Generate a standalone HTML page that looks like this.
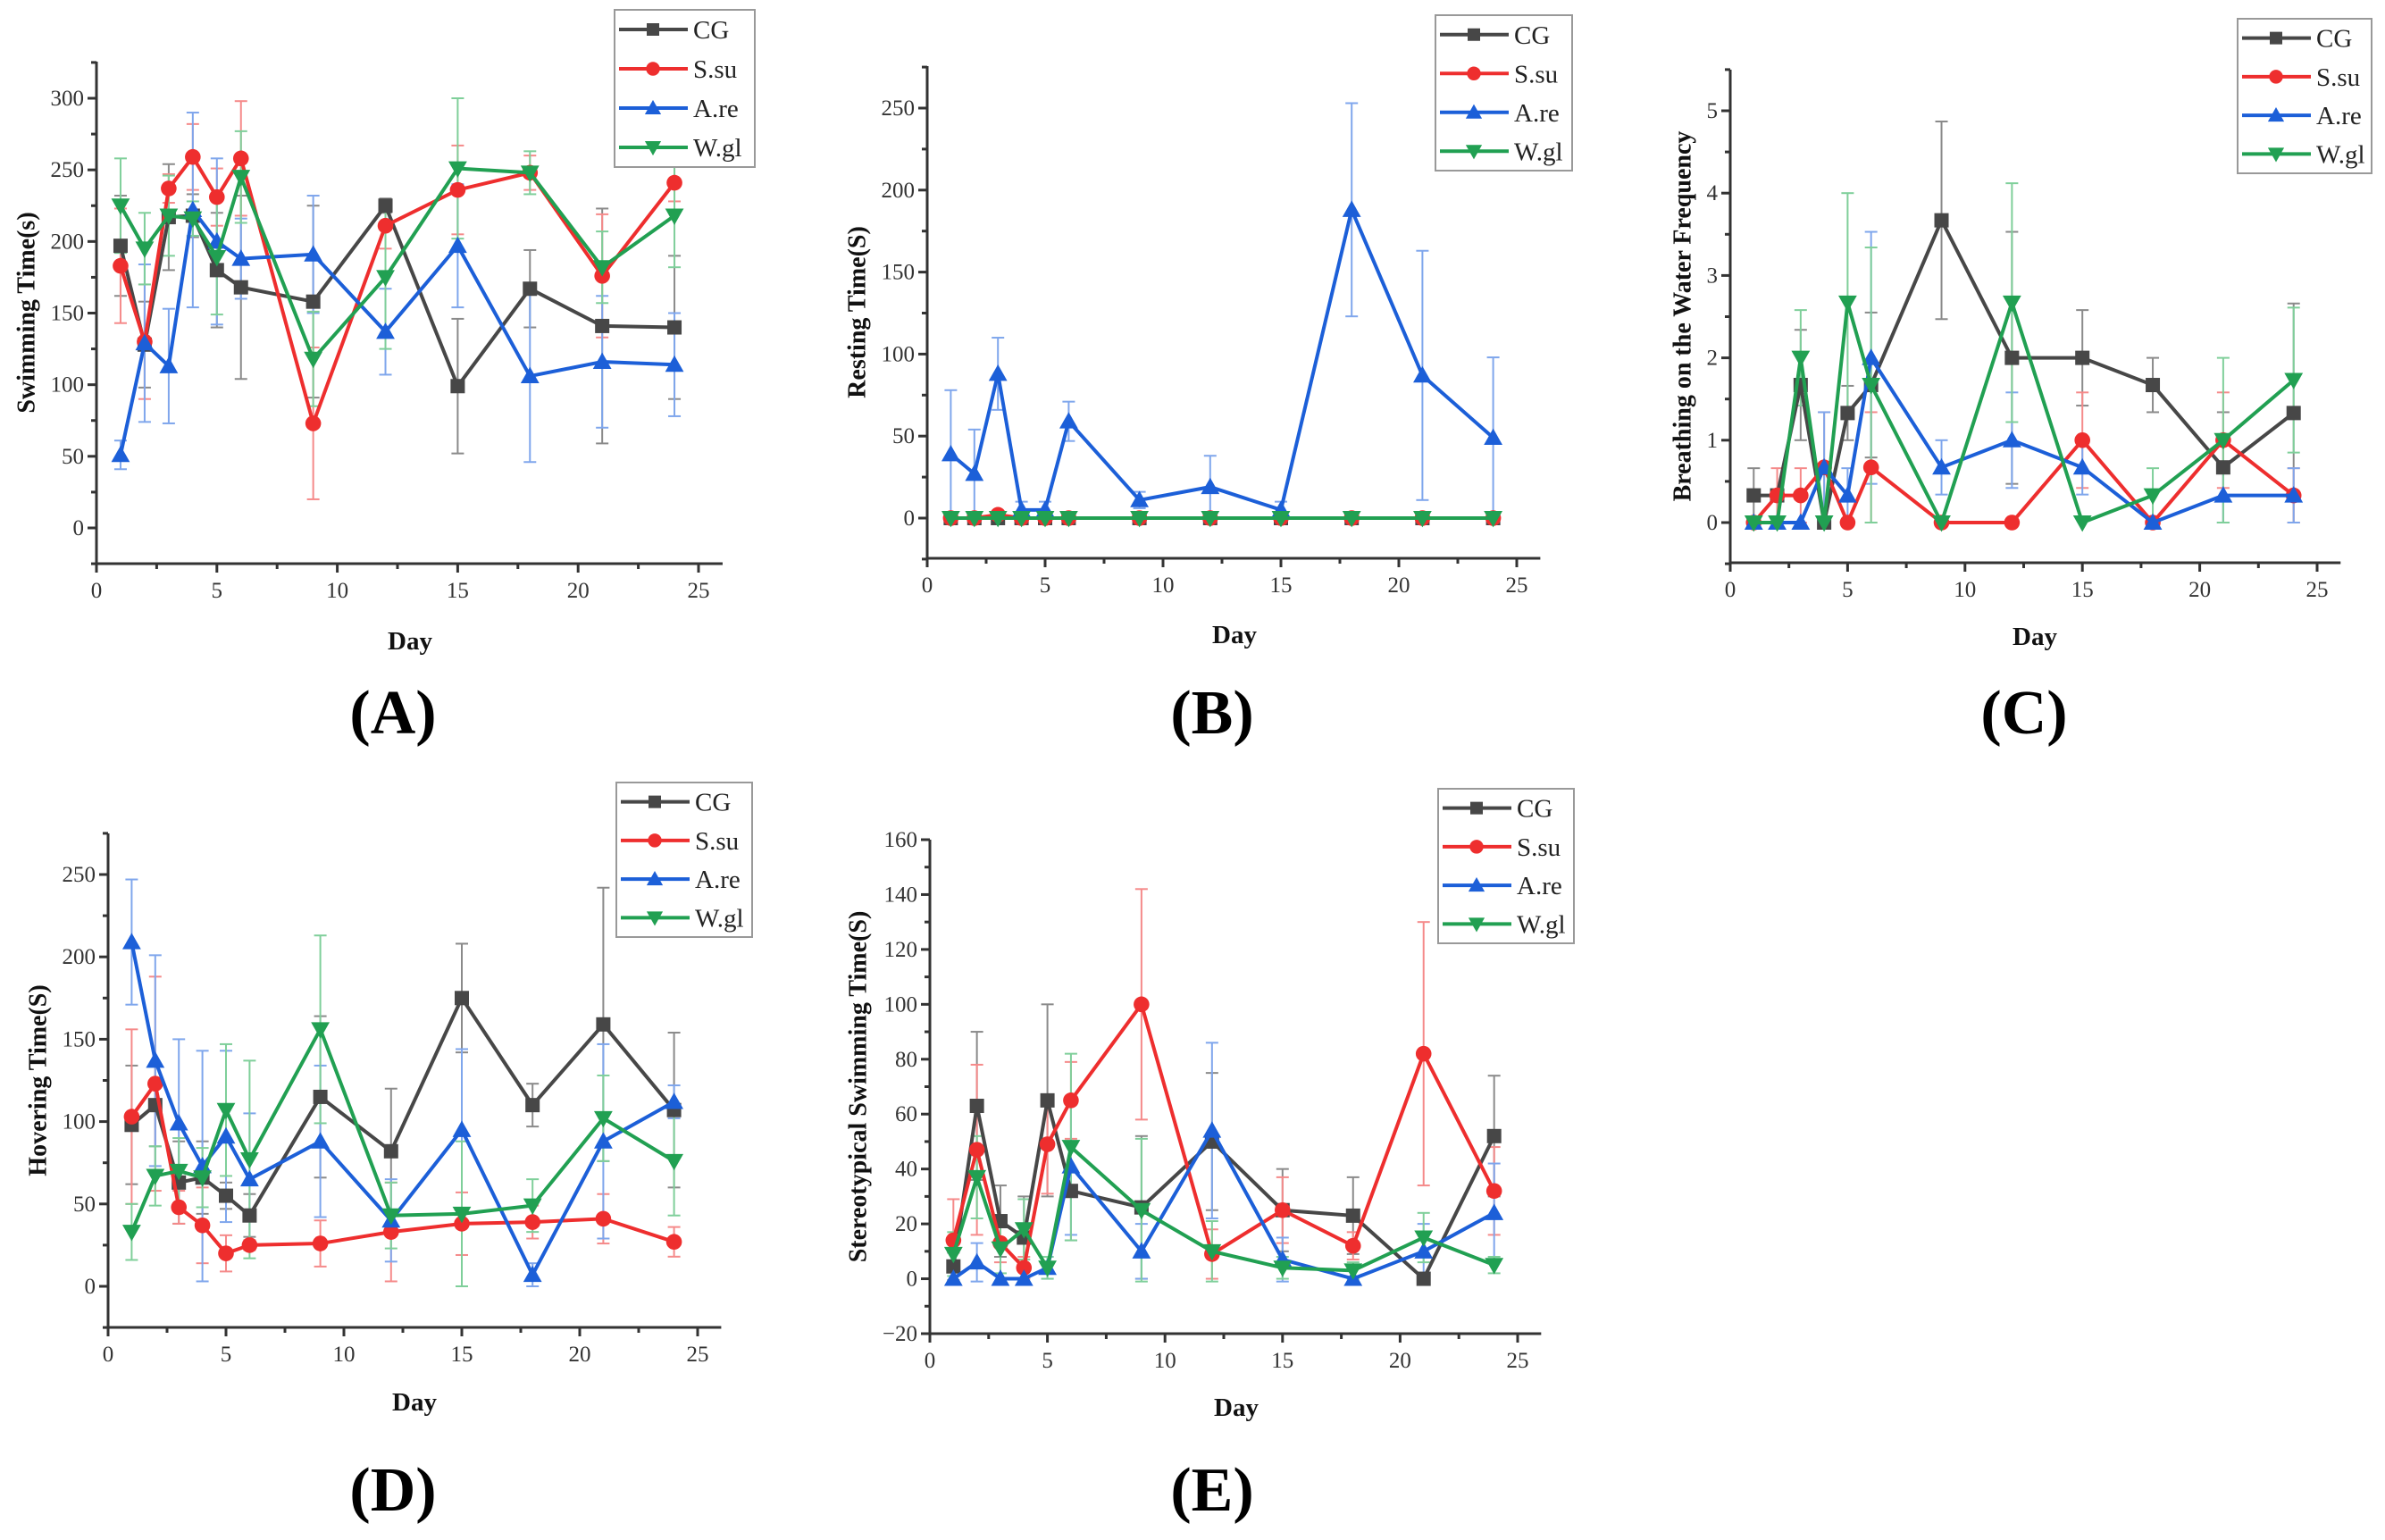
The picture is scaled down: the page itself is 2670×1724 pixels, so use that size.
<!DOCTYPE html>
<html><head><meta charset="utf-8"><style>
html,body{margin:0;padding:0;background:#fff;}
svg{display:block;font-family:"Liberation Serif",serif;}
text{font-family:"Liberation Serif",serif;}
</style></head><body>
<svg id="fig" width="2670" height="1724" viewBox="0 0 2670 1724" xmlns="http://www.w3.org/2000/svg" font-family="Liberation Serif, serif"></svg>
<script>
const days=[1,2,3,4,5,6,9,12,15,18,21,24];
const seriesNames=["CG","S.su","A.re","W.gl"];
// Panel A - Swimming time
const A_cg=[197,128,217,218,180,168,158,225,99,167,141,140];
const A_cg_err=[35,30,37,15,40,64,67,5,47,27,82,50];
const A_ss=[183,130,237,259,231,258,73,211,236,248,176,241];
const A_ss_err=[40,40,10,23,20,40,53,16,31,12,43,13];
const A_ar=[51,129,113,222,200,188,191,137,197,106,116,114];
const A_ar_err=[10,55,40,68,58,28,41,30,43,60,46,36];
const A_wg=[225,195,218,216,189,245,118,175,251,248,182,218];
const A_wg_err=[33,25,28,12,40,32,33,50,49,15,25,36];
const A_yticks=[0,50,100,150,200,250,300];
// Panel B - Resting time
const B_cg=[0,0,0,0,0,0,0,0,0,0,0,0];
const B_cg_err=[0,0,0,0,0,0,0,0,0,0,0,0];
const B_ss=[0,0,2,0,0,0,0,0,0,0,0,0];
const B_ss_err=[0,0,0,0,0,0,0,0,0,0,0,0];
const B_ar=[39,27,88,5,5,59,11,19,5,188,87,49];
const B_ar_err=[39,27,22,5,5,12,5,19,5,65,76,49];
const B_wg=[0,0,0,0,0,0,0,0,0,0,0,0];
const B_wg_err=[0,0,0,0,0,0,0,0,0,0,0,0];
const B_yticks=[0,50,100,150,200,250];
// Panel C - Breathing frequency
const C_cg=[0.33,0.33,1.67,0,1.33,1.67,3.67,2,2,1.67,0.67,1.33];
const C_cg_err=[0.33,0,0.67,0,0.33,0.88,1.2,1.53,0.58,0.33,0.67,1.33];
const C_ss=[0,0.33,0.33,0.67,0,0.67,0,0,1,0,1,0.33];
const C_ss_err=[0,0.33,0.33,0.67,0,0.67,0,0,0.58,0,0.58,0.33];
const C_ar=[0,0,0,0.67,0.33,2,0.67,1,0.67,0,0.33,0.33];
const C_ar_err=[0,0,0,0.67,0.33,1.53,0.33,0.58,0.33,0,0.33,0.33];
const C_wg=[0,0,2,0,2.67,1.67,0,2.67,0,0.33,1,1.73];
const C_wg_err=[0,0,0.58,0,1.33,1.67,0,1.45,0,0.33,1,0.88];
const C_yticks=[0,1,2,3,4,5];
// Panel D - Hovering time
const D_cg=[98,110,63,66,55,43,115,82,175,110,159,107];
const D_cg_err=[36,25,25,22,8,13,49,38,33,13,83,47];
const D_ss=[103,123,48,37,20,25,26,33,38,39,41,27];
const D_ss_err=[53,65,10,23,11,3,14,30,19,10,15,9];
const D_ar=[209,137,99,73,91,65,88,40,95,7,88,112];
const D_ar_err=[38,64,51,70,52,40,46,25,49,7,59,10];
const D_wg=[33,67,70,66,107,77,156,43,44,49,102,76];
const D_wg_err=[17,18,20,18,40,60,57,20,44,16,26,33];
const D_yticks=[0,50,100,150,200,250];
// Panel E - Stereotypical swimming
const E_cg=[4.5,63,21,15,65,32,26,50,25,23,0,52];
const E_cg_err=[5,27,13,15,35,18,26,25,15,14,0,22];
const E_ss=[14,47,13,4,49,65,100,9,25,12,82,32];
const E_ss_err=[15,31,7,4,18,14,42,9,12,5,48,16];
const E_ar=[0,6,0,0,4,41,10,54,7,0,10,24];
const E_ar_err=[0,7,0,0,4,25,10,32,8,0,10,18];
const E_wg=[9,37,11,18,4,48,25,10,4,3,15,5];
const E_wg_err=[8,15,9,11,4,34,26,11,4,3,9,3];
const E_yticks=[-20,0,20,40,60,80,100,120,140,160];
const xticks=[0,5,10,15,20,25];

const NS="http://www.w3.org/2000/svg";
const svg=document.getElementById('fig');
const colors=["#474747","#ee2e2e","#1c5fd8","#21a052"];
const errColors=["#8a8a8a","#f58a8a","#7fa6ec","#7fcf9a"];
const markers=["square","circle","up","down"];
const FF="Liberation Serif, serif";
function mk(tag,attrs,parent){const e=document.createElementNS(NS,tag);for(const k in attrs)e.setAttribute(k,attrs[k]);(parent||svg).appendChild(e);return e;}

const panels=[
 {id:"a",letter:"(A)",title:"Swimming Time(s)",series:[A_cg,A_ss,A_ar,A_wg],errs:[A_cg_err,A_ss_err,A_ar_err,A_wg_err],yticks:A_yticks,ymin:-25,ymax:326,minor:25,
  x0:108,x1:782,top:69,bottom:631,yv0:0,yp0:591,yv1:300,yp1:110,titleX:32,leg:[688,11,845,187],day:[459,717],lab:[440,797]},
 {id:"b",letter:"(B)",title:"Resting Time(S)",series:[B_cg,B_ss,B_ar,B_wg],errs:[B_cg_err,B_ss_err,B_ar_err,B_wg_err],yticks:B_yticks,ymin:-25,ymax:275,minor:25,
  x0:1038,x1:1698,top:74,bottom:625,yv0:0,yp0:580,yv1:250,yp1:121,titleX:962,leg:[1607,17,1760,191],day:[1382,710],lab:[1357,797]},
 {id:"c",letter:"(C)",title:"Breathing on the Water Frequency",series:[C_cg,C_ss,C_ar,C_wg],errs:[C_cg_err,C_ss_err,C_ar_err,C_wg_err],yticks:C_yticks,ymin:-0.5,ymax:5.5,minor:0.5,
  x0:1937,x1:2594,top:78,bottom:630,yv0:0,yp0:585,yv1:5,yp1:124,titleX:1886,leg:[2505,21,2655,194],day:[2278,712],lab:[2266,797]},
 {id:"d",letter:"(D)",title:"Hovering Time(S)",series:[D_cg,D_ss,D_ar,D_wg],errs:[D_cg_err,D_ss_err,D_ar_err,D_wg_err],yticks:D_yticks,ymin:-25,ymax:275,minor:25,
  x0:121,x1:781,top:933,bottom:1486,yv0:0,yp0:1440,yv1:250,yp1:979,titleX:45,leg:[690,876,842,1049],day:[464,1569],lab:[440,1667]},
 {id:"e",letter:"(E)",title:"Stereotypical Swimming Time(S)",series:[E_cg,E_ss,E_ar,E_wg],errs:[E_cg_err,E_ss_err,E_ar_err,E_wg_err],yticks:E_yticks,ymin:-20,ymax:160,minor:10,
  x0:1041,x1:1699,top:940,bottom:1493,yv0:-20,yp0:1493,yv1:160,yp1:940,titleX:963,leg:[1610,883,1762,1056],day:[1384,1575],lab:[1357,1667]}
];

function marker(g,type,x,y,s,color){
  let e;
  if(type==="square"){e=mk('rect',{x:x-s,y:y-s,width:2*s,height:2*s,fill:color},g);}
  else if(type==="circle"){e=mk('circle',{cx:x,cy:y,r:s*1.1,fill:color},g);}
  else if(type==="up"){e=mk('polygon',{points:`${x},${y-s*1.3} ${x-s*1.3},${y+s} ${x+s*1.3},${y+s}`,fill:color},g);}
  else {e=mk('polygon',{points:`${x},${y+s*1.3} ${x-s*1.3},${y-s} ${x+s*1.3},${y-s}`,fill:color},g);}
  return e;
}

panels.forEach(p=>{
  const g=mk('g',{});
  
  
  const xs=v=>p.x0+(p.x1-p.x0)*v/25;
  const ys=v=>p.yp0+(p.yp1-p.yp0)*(v-p.yv0)/(p.yv1-p.yv0);
  const xEnd=xs(26);
  const ax=mk('g',{stroke:"#333","stroke-width":3},g);
  
  
  mk('line',{x1:p.x0,y1:p.top,x2:p.x0,y2:p.bottom},ax);
  mk('line',{x1:p.x0-1.5,y1:p.bottom,x2:xEnd,y2:p.bottom},ax);
  for(let v=0;v<=25;v+=2.5){
    const major=(v%5===0);
    mk('line',{x1:xs(v),y1:p.bottom,x2:xs(v),y2:p.bottom+(major?10:6)},ax);
  }
  xticks.forEach(v=>{
    const t=mk('text',{x:xs(v),y:p.bottom+38,"font-size":25,"font-family":FF,"text-anchor":"middle",fill:"#333"},g);
    t.textContent=v;
    
    
  });
  const n=Math.round((p.ymax-p.ymin)/p.minor);
  for(let i=0;i<=n;i++){
    const v=Math.ceil(p.ymin/p.minor)*p.minor+i*p.minor;
    if(v>p.ymax+1e-9) break;
    const major=p.yticks.some(t=>Math.abs(t-v)<1e-9);
    mk('line',{x1:p.x0,y1:ys(v),x2:p.x0-(major?10:6),y2:ys(v)},ax);
  }
  p.yticks.forEach(v=>{
    const t=mk('text',{x:p.x0-14,y:ys(v)+8,"font-size":25,"font-family":FF,"text-anchor":"end",fill:"#333"},g);
    t.textContent=(v<0?"\u2212"+Math.abs(v):v);
    
    
  });
  const cy=(p.top+p.bottom)/2;
  const yt=mk('text',{x:p.titleX,y:cy,"font-size":28,"font-family":FF,"font-weight":"bold","text-anchor":"middle",fill:"#111",transform:`rotate(-90 ${p.titleX} ${cy})`,"dominant-baseline":"middle"},g);
  yt.textContent=p.title;
  
  
  const dt=mk('text',{x:p.day[0],y:p.day[1]+10,"font-size":29,"font-family":FF,"font-weight":"bold","text-anchor":"middle",fill:"#111"},g);
  dt.textContent="Day";
  
  
  const lt=mk('text',{x:p.lab[0],y:p.lab[1]+24,"font-size":70,"font-family":FF,"font-weight":"bold","text-anchor":"middle",fill:"#000"},g);
  lt.textContent=p.letter;
  
  
  p.series.forEach((s,si)=>{
    const eg=mk('g',{stroke:errColors[si],"stroke-width":2},g);
    
    
    s.forEach((v,i)=>{
      const e=p.errs[si][i]; if(!e) return;
      const x=xs(days[i]), yh=ys(v+e), yl=ys(v-e);
      const ln=mk('line',{x1:x,y1:yh,x2:x,y2:yl},eg);
      
      
      mk('line',{x1:x-7,y1:yh,x2:x+7,y2:yh},eg);
      mk('line',{x1:x-7,y1:yl,x2:x+7,y2:yl},eg);
    });
  });
  p.series.forEach((s,si)=>{
    const sg=mk('g',{},g);
    
    
    const pts=s.map((v,i)=>xs(days[i])+","+ys(v)).join(" ");
    const pl=mk('polyline',{points:pts,fill:"none",stroke:colors[si],"stroke-width":4,"stroke-linejoin":"miter"},sg);
    
    
    s.forEach((v,i)=>{
      const m=marker(sg,markers[si],xs(days[i]),ys(v),8,colors[si]);
      
      
    });
  });
  const [lx0,ly0,lx1,ly1]=p.leg;
  const lg=mk('g',{},g);
  
  
  mk('rect',{x:lx0,y:ly0,width:lx1-lx0,height:ly1-ly0,fill:"#fff",stroke:"#999","stroke-width":2},lg);
  const step=(ly1-ly0)/4;
  seriesNames.forEach((nm,si)=>{
    const y=ly0+step*(si+0.5);
    const eg=mk('g',{},lg);
    
    
    mk('line',{x1:lx0+5,y1:y,x2:lx0+82,y2:y,stroke:colors[si],"stroke-width":4},eg);
    marker(eg,markers[si],lx0+43,y,7,colors[si]);
    const t=mk('text',{x:lx0+88,y:y+10,"font-size":29,"font-family":FF,fill:"#222"},eg);
    t.textContent=nm;
  });
});
</script>
</body></html>
